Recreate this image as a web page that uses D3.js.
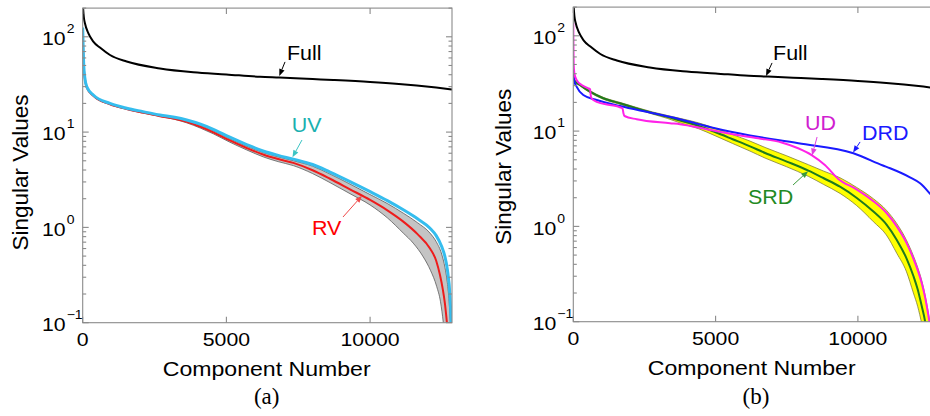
<!DOCTYPE html>
<html><head><meta charset="utf-8">
<script src="https://cdn.jsdelivr.net/npm/d3@7"></script>
<style>html,body{margin:0;padding:0;background:#fff;overflow:hidden} svg{display:block}</style>
</head><body>
<svg id="chart" width="930" height="416"></svg>
<script>
// ---------------- data ----------------
const xTicks = [0, 5000, 10000];
const yTicks = [0.1, 1, 10, 100];
const yTickExps = ["\u22121", "0", "1", "2"];
const xDomain = [0, 12850];
const yDomain = [0.1, 200];
const xTitle = "Component Number";
const yTitle = "Singular Values";
const captions = ["(a)", "(b)"];

// [component number, singular value]
const fullCurve = [[0,230],[40,160],[80,138],[195,109],[369,89],[600,77],[950,64.4],[1530,55],[2690,46.6],[3850,42.5],[5000,40.3],[6170,38],[6840,37.3],[8000,36],[8720,35.2],[10000,33.6],[11000,32],[11620,30.8],[12300,29.3],[12850,28]];

const uvCurve = [[0,125],[15,80],[40,48],[70,38],[139,30],[369,24.5],[950,20],[1531,17.8],[2100,16.4],[2690,15.1],[3200,14.3],[3620,13.4],[4100,12.1],[4545,10.7],[5100,8.9],[5706,7.4],[6300,6.3],[6800,5.7],[7328,5.2],[8000,4.57],[8605,3.8],[9300,3.02],[10000,2.37],[10600,1.91],[11155,1.53],[11650,1.23],[12085,0.98],[12300,0.82],[12491,0.63],[12600,0.5],[12688,0.363],[12781,0.19],[12830,0.089]];
const rvCurve = [[0,120],[15,77.6],[40,47],[70,37.5],[139,29.5],[369,24],[950,19.6],[1531,17.5],[2100,16.0],[2690,14.7],[3200,13.8],[3620,12.8],[4100,11.35],[4545,9.95],[5100,8.22],[5706,6.81],[6300,5.78],[6800,5.21],[7328,4.75],[8000,3.98],[8605,3.24],[9300,2.51],[10000,1.94],[10600,1.51],[11155,1.15],[11650,0.85],[12085,0.60],[12300,0.447],[12432,0.316],[12530,0.224],[12605,0.158],[12680,0.0955]];
const rvBandUpper = [[0,121.6],[15,78.5],[40,47.4],[70,37.8],[139,29.7],[369,24.2],[950,19.8],[1531,17.6],[2100,16.2],[2690,14.9],[3200,14.0],[3620,13.1],[4100,11.7],[4545,10.3],[5100,8.55],[5706,7.11],[6300,6.07],[6800,5.5],[7328,5.01],[8000,4.39],[8605,3.63],[9300,2.85],[10000,2.21],[10600,1.78],[11155,1.41],[11650,1.12],[12085,0.871],[12300,0.708],[12491,0.525],[12605,0.38],[12688,0.263],[12750,0.166],[12800,0.089]];
const rvBandLower = [[0,118],[15,76.7],[40,46.6],[70,37.2],[139,29.2],[369,23.8],[950,19.4],[1531,17.3],[2100,15.8],[2690,14.6],[3200,13.6],[3620,12.5],[4100,11.0],[4545,9.59],[5100,7.89],[5706,6.5],[6300,5.47],[6800,4.9],[7328,4.45],[8000,3.67],[8605,2.95],[9300,2.26],[10000,1.72],[10600,1.26],[11155,0.871],[11500,0.684],[11851,0.49],[12100,0.355],[12317,0.24],[12450,0.166],[12548,0.1],[12600,0.071]];

const drdCurve = [[0,43.7],[30,34],[116,29.3],[351,23.9],[822,21.2],[1640,18.3],[2812,15.4],[3750,13.3],[4980,10.7],[6210,9.0],[7910,7.45],[9842,5.85],[10880,4.35],[11132,4.07],[11830,3.27],[12186,2.83],[12538,2.2],[12900,1.65]];
const udCurve = [[0,135],[5,80],[15,50],[40,40],[116,34.4],[295,30.5],[527,28.1],[590,27.5],[610,24],[640,22.1],[822,20.3],[1290,18.8],[1640,17.8],[1730,17.3],[1760,15.5],[1800,14.4],[2228,13.3],[3400,12.1],[3750,11.8],[4600,10.6],[5565,9.3],[6500,8.4],[7320,7.6],[7900,6.6],[8375,5.6],[8840,4.4],[9310,3.15],[9950,2.45],[10545,1.84],[11000,1.39],[11367,1.0],[11700,0.68],[11951,0.46],[12100,0.35],[12245,0.253],[12362,0.18],[12460,0.125],[12540,0.089]];
const srdCurve = [[0,39.8],[40,33.9],[235,30.5],[587,25.9],[1054,22.1],[1640,19.6],[2200,17.4],[2812,15.4],[3300,14.1],[3750,12.9],[4400,11.35],[4980,9.77],[5600,8.22],[6210,6.92],[6740,5.89],[7500,4.79],[8260,3.85],[8800,3.2],[9371,2.61],[9950,2.0],[10545,1.43],[11000,1.05],[11367,0.72],[11700,0.468],[11951,0.302],[12100,0.219],[12245,0.145],[12362,0.1],[12430,0.071]];
const srdBandUpper = [[0,40.7],[40,34.7],[235,31.2],[587,26.5],[1054,22.6],[1640,20.0],[2200,17.8],[2812,15.8],[3300,14.6],[3750,13.6],[4400,12.2],[4980,10.7],[5600,9.18],[6210,7.85],[6740,6.73],[7500,5.5],[8260,4.44],[8800,3.8],[9371,3.24],[9950,2.57],[10545,1.95],[11000,1.48],[11367,1.07],[11700,0.724],[11951,0.49],[12100,0.372],[12245,0.269],[12362,0.19],[12460,0.132],[12540,0.093]];
const srdBandLower = [[0,38.9],[40,33.1],[235,29.8],[587,25.3],[1054,21.6],[1640,19.1],[2200,17.0],[2812,15.0],[3300,13.6],[3750,12.2],[4400,10.6],[4980,8.95],[5600,7.41],[6210,6.17],[6740,5.21],[7500,4.22],[8260,3.35],[8800,2.75],[9371,2.22],[9950,1.66],[10545,1.12],[11000,0.813],[11367,0.522],[11700,0.339],[11951,0.2],[12100,0.145],[12245,0.095]];

// annotation labels: text, label anchor, arrow tail, arrow tip (data units)
const annotationsA = [
  {key:"full", text:"Full", at:[7108,57.2], from:[7040,54.5], to:[6840,38.8]},
  {key:"uv",   text:"UV",   at:[7272,10.1], from:[7630,8.26], to:[7300,5.45]},
  {key:"rv",   text:"RV",   at:[7978,0.832], from:[9057,1.285], to:[9718,2.15]}
];
const annotationsB = [
  {key:"full", text:"Full", at:[7019,55.7], from:[6984,51.9], to:[6773,37.9]},
  {key:"ud",   text:"UD",   at:[8141,10.3], from:[8566,8.67], to:[8390,5.55]},
  {key:"drd",  text:"DRD",  at:[10148,8.07], from:[10077,7.69], to:[9831,5.95]},
  {key:"srd",  text:"SRD",  at:[6140,1.72], from:[7722,2.72], to:[8250,3.8]}
];

// ---------------- styles / layout ----------------
const style = {
  full: {line:"#000000", width:2, label:"#000000", arrow:"#000000"},
  uv:   {line:"#35bdee", width:3, label:"#1ab0b0", arrow:"#3cc4c4"},
  rv:   {line:"#ee1c1c", width:2, label:"#ff0000", arrow:"#f04848"},
  drd:  {line:"#1a1aff", width:2, label:"#1a1aff", arrow:"#1a1aff"},
  ud:   {line:"#ff22e8", width:2, label:"#d020d0", arrow:"#e040e0"},
  srd:  {line:"#1f7a1f", width:2, label:"#238a23", arrow:"#3a9a3a"}
};
const SX = 1.12; // horizontal text stretch of the original image
const panels = [
  {left:82.7, right:452, top:8.1, bottom:322.7, titleX:266.7, ylabX:27.8, ylabY:172.5, capX:266.7,
   band:{upper:rvBandUpper, lower:rvBandLower, fill:"#c4c4c4", stroke:"#5a5a5a"},
   lines:[["rv", rvCurve], ["uv", uvCurve], ["full", fullCurve]], ann:annotationsA, cap:captions[0]},
  {left:573.3, right:939, top:7.1, bottom:321.7, titleX:751.7, ylabX:511, ylabY:166.7, capX:756,
   band:{upper:srdBandUpper, lower:srdBandLower, fill:"#ffff00", stroke:"#7d7d3a"},
   lines:[["srd", srdCurve], ["drd", drdCurve], ["ud", udCurve], ["full", fullCurve]], ann:annotationsB, cap:captions[1]}
];

const svg = d3.select("#chart");
const FONT = "'Liberation Sans', Arial, Helvetica, sans-serif";

function txt(g, x, y, s, o) {
  return g.append("text")
    .attr("transform", `translate(${x},${y}) scale(${o.sx ?? SX},1)`)
    .attr("font-family", o.family || FONT)
    .attr("font-size", o.size)
    .attr("text-anchor", o.anchor || "start")
    .attr("fill", o.fill || "#000")
    .text(s);
}

panels.forEach((p, i) => {
  const g = svg.append("g");
  const x = d3.scaleLinear().domain(xDomain).range([p.left, p.right]);
  const y = d3.scaleLog().domain(yDomain).range([p.bottom, p.top]);
  const clipId = "clip" + i;
  svg.append("defs").append("clipPath").attr("id", clipId)
    .append("rect").attr("x", p.left).attr("y", p.top)
    .attr("width", p.right - p.left).attr("height", p.bottom - p.top);

  const line = d3.line().x(d => x(d[0])).y(d => y(d[1])).curve(d3.curveMonotoneX);
  const plot = g.append("g").attr("clip-path", `url(#${clipId})`);

  // band (upper edge forward, lower edge backward)
  const up = line(p.band.upper);
  const lo = line(p.band.lower.slice().reverse());
  plot.append("path").attr("d", up + "L" + lo.slice(1) + "Z")
    .attr("fill", p.band.fill).attr("stroke", p.band.stroke).attr("stroke-width", 0.8);

  p.lines.forEach(([k, data]) => {
    plot.append("path").attr("d", line(data)).attr("fill", "none")
      .attr("stroke", style[k].line).attr("stroke-width", style[k].width)
      .attr("stroke-linejoin", "round");
  });

  // frame
  const ax = g.append("g").attr("stroke", "#8a8a8a").attr("stroke-width", 1.1).attr("fill", "none");
  ax.append("rect").attr("x", p.left).attr("y", p.top).attr("width", p.right - p.left).attr("height", p.bottom - p.top);
  xTicks.forEach(t => {
    const xx = x(t);
    ax.append("line").attr("x1", xx).attr("x2", xx).attr("y1", p.bottom).attr("y2", p.bottom - 6);
    ax.append("line").attr("x1", xx).attr("x2", xx).attr("y1", p.top).attr("y2", p.top + 6);
    txt(g, xx, p.bottom + 23, d3.format("d")(t), {size:19, anchor:"middle"});
  });
  yTicks.forEach((t, j) => {
    const yy = y(t);
    ax.append("line").attr("x1", p.left).attr("x2", p.left + 6).attr("y1", yy).attr("y2", yy);
    ax.append("line").attr("x1", p.right).attr("x2", p.right - 6).attr("y1", yy).attr("y2", yy);
    txt(g, p.left - 17, yy + 8.3, "10", {size:19, anchor:"end"});
    txt(g, p.left - 16, yy - 3.7, yTickExps[j], {size:12.5, anchor:"start"});
    for (let k = 2; k <= 9; k++) {
      const v = t * k;
      if (v > yDomain[1]) break;
      const ym = y(v);
      ax.append("line").attr("x1", p.left).attr("x2", p.left + 3.5).attr("y1", ym).attr("y2", ym);
      ax.append("line").attr("x1", p.right).attr("x2", p.right - 3.5).attr("y1", ym).attr("y2", ym);
    }
  });

  // titles
  txt(g, p.titleX, p.bottom + 53, xTitle, {size:21, anchor:"middle", sx:1.1});
  g.append("text").attr("transform", `translate(${p.ylabX},${p.ylabY}) rotate(-90)`)
    .attr("font-family", FONT).attr("font-size", 22.5).attr("text-anchor", "middle").text(yTitle);
  txt(g, p.capX, 404, p.cap, {size:23, anchor:"middle", sx:1, family:"'Liberation Serif','Times New Roman',serif"});

  // annotations
  p.ann.forEach(a => {
    const st = style[a.key];
    const x0 = x(a.from[0]), y0 = y(a.from[1]), x1 = x(a.to[0]), y1 = y(a.to[1]);
    const ang = Math.atan2(y1 - y0, x1 - x0);
    const L = 7, W = 2.8;
    const bx = x1 - L * Math.cos(ang), by = y1 - L * Math.sin(ang);
    g.append("line").attr("x1", x0).attr("y1", y0).attr("x2", bx).attr("y2", by)
      .attr("stroke", st.arrow).attr("stroke-width", 1);
    const pts = [[x1, y1], [bx + W * Math.sin(ang), by - W * Math.cos(ang)], [bx - W * Math.sin(ang), by + W * Math.cos(ang)]];
    g.append("path").attr("d", d3.line()(pts) + "Z").attr("fill", st.arrow);
    txt(g, x(a.at[0]), y(a.at[1]), a.text, {size:19.5, fill:st.label, sx:1.1});
  });
});
</script>
</body></html>
